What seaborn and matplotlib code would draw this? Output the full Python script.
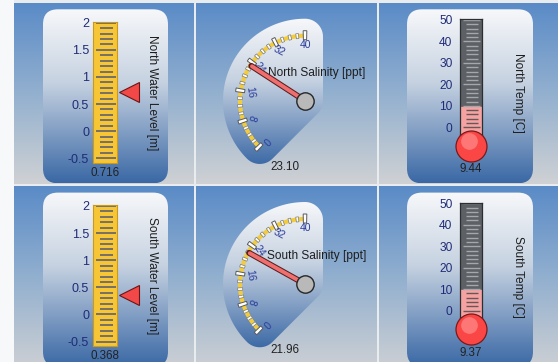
import numpy as np
import matplotlib
matplotlib.use("Agg")
import matplotlib.pyplot as plt
import matplotlib.transforms as mtransforms
from matplotlib.colors import LinearSegmentedColormap
from matplotlib.patches import FancyBboxPatch, Rectangle, PathPatch
from matplotlib.path import Path
import seaborn as sns

sns.set_theme(style="white")
plt.rcParams["font.family"] = ["Liberation Sans", "DejaVu Sans"]

# readings per station
stations = ["North", "South"]
water_level = [0.716, 0.368]
salinity = [23.10, 21.96]
temperature = [9.44, 9.37]

level_ticks = [-0.5, 0, 0.5, 1, 1.5, 2]
level_labels = ["-0.5", "0", "0.5", "1", "1.5", "2"]
salinity_ticks = [0, 8, 16, 24, 32, 40]
temp_ticks = [0, 10, 20, 30, 40, 50]

W, H = 558, 362
ROW_STEP = 183.3
SPAN = 135.0  # degrees swept by the dial from 0 to 40

fig = plt.figure(figsize=(W / 100, H / 100), dpi=100)
fig.patch.set_facecolor("#e9ecef")
bg = fig.add_axes([0, 0, 1, 1])
bg.axis("off")

cell_cmap = LinearSegmentedColormap.from_list("cell", ["#5a8bc7", "#93b0cf", "#cfd1d4"])
panel_cmap = LinearSegmentedColormap.from_list(
    "panel", [(0, "#f7f8fa"), (0.42, "#c6d2e1"), (1, "#3a68a5")])
grad = np.linspace(0, 1, 256).reshape(-1, 1)


def fill_gradient(patch, x0, x1, y0, y1, cmap, z):
    patch.set_facecolor("none")
    patch.set_edgecolor("none")
    bg.add_patch(patch)
    im = bg.imshow(grad, cmap=cmap, extent=(x0, x1, y1, y0), aspect="auto",
                   zorder=z, interpolation="bicubic")
    im.set_clip_path(patch)


def px_axes(x0, x1, y0, y1, **kw):
    return fig.add_axes([x0 / W, 1 - y1 / H, (x1 - x0) / W, (y1 - y0) / H], **kw)


def value_limits(y0, y1, v_hi, y_hi, v_lo, y_lo):
    ppu = (y_lo - y_hi) / (v_hi - v_lo)
    return v_lo - (y1 - y_lo) / ppu, v_hi + (y_hi - y0) / ppu


def fan_path(cx, cy, R0, r):
    def pt(x0, y0, rad, deg):
        a = np.radians(deg)
        return x0 + rad * np.cos(a), y0 - rad * np.sin(a)
    p1 = pt(cx, cy, R0, 90)
    p2 = pt(cx, cy, R0, 225)
    verts = [pt(cx, cy, R0 + r, a) for a in np.linspace(90, 225, 60)]
    verts += [pt(*p2, r, a) for a in np.linspace(225, 315, 20)]
    verts += [pt(cx, cy, r, a) for a in np.linspace(315, 360, 12)]
    verts += [pt(*p1, r, a) for a in np.linspace(0, 90, 20)]
    return Path(verts + [verts[0]], closed=True)


col_x = [(14, 194), (196, 377), (379, 558)]
row_y = [(3, 184), (186.3, 372)]

# white margin on the left
bg.add_patch(Rectangle((0, 0), 14, H, facecolor="#f7f8f9", edgecolor="none", zorder=0.5))

for (y0, y1) in row_y:
    for (x0, x1) in col_x:
        fill_gradient(Rectangle((x0, y0), x1 - x0, y1 - y0), x0, x1, y0, y1, cell_cmap, 1)

for i, name in enumerate(stations):
    dy = i * ROW_STEP

    # panels behind the ruler and the thermometer
    for (px0, px1) in [(43, 168), (407, 533)]:
        box = FancyBboxPatch((px0, 9.3 + dy), px1 - px0, 174, boxstyle="round,pad=0,rounding_size=15")
        fill_gradient(box, px0, px1, 9.3 + dy, 183.3 + dy, panel_cmap, 2)

    # fan behind the dial
    cx, cy = 305, 100.7 + dy
    fan = PathPatch(fan_path(cx, cy, 64, 18))
    fill_gradient(fan, 215, 330, 18 + dy, 166 + dy, panel_cmap, 2)

    # ---------------- water level ruler ----------------
    ax = px_axes(93, 117, 21.7 + dy, 163 + dy)
    ax.set_ylim(*value_limits(21.7, 163, 2, 22.7, -0.5, 158.3))
    ax.set_xlim(0, 1)
    ax.set_facecolor("#f7c636")
    for s in ax.spines.values():
        s.set_color("#c99a1e")
        s.set_linewidth(0.8)
    minor = np.round(np.arange(-0.5, 2.001, 0.1), 2)
    small = [v for v in minor if abs(v * 2 - round(v * 2)) > 1e-6]
    ax.hlines(small, 0.29, 0.83, color="#767064", lw=1.4)
    ax.hlines(level_ticks, 0.12, 0.96, color="#767064", lw=1.4)
    ax.set_xticks([])
    ax.set_yticks(level_ticks)
    ax.set_yticklabels(level_labels)
    ax.tick_params(axis="y", length=0, pad=2.7, labelsize=9, labelcolor="#1f2c78")
    tr = mtransforms.blended_transform_factory(ax.transAxes, ax.transData)
    ax.plot([1.5], [water_level[i]], marker="<", ms=14, mfc="#f24848", mec="#6b1515",
            mew=0.8, transform=tr, clip_on=False)
    ax.text(2.46, 0.5, f"{name} Water Level [m]", transform=ax.transAxes, rotation=270,
            ha="center", va="center", fontsize=8.6, color="#1e1e1e")
    ax.text(0.5, -0.072, f"{water_level[i]:.3f}", transform=ax.transAxes,
            ha="center", va="center", fontsize=8.4, color="#222222")

    # ---------------- thermometer ----------------
    tx = px_axes(460, 482.3, 19.3 + dy, 135 + dy)
    lo, hi = value_limits(19.3, 135, 50, 20, 0, 127.3)
    tx.set_ylim(lo, hi)
    tx.set_xlim(0, 1)
    tx.set_facecolor("#5d6166")
    for s in tx.spines.values():
        s.set_color("#2c2e30")
        s.set_linewidth(0.9)
    tx.axhspan(lo, temperature[i], color="#f4a2a2", zorder=1)
    tks = np.arange(0, 51, 2)
    for above, col in [(False, "#6a5656"), (True, "#a4a8ac")]:
        sel = tks[(tks > temperature[i]) == above]
        longs = sel[sel % 10 == 0]
        shorts = sel[sel % 10 != 0]
        tx.hlines(shorts, 0.25, 0.8, color=col, lw=1.0, zorder=2)
        tx.hlines(longs, 0.15, 0.9, color=col, lw=1.0, zorder=2)
    tx.set_xticks([])
    tx.set_yticks(temp_ticks)
    tx.tick_params(axis="y", length=0, pad=5.5, labelsize=8.6, labelcolor="#1f2c78")
    bulb_y = -(146 - 127.3) / ((127.3 - 20) / 50)
    tx.plot([0.5], [bulb_y], "o", ms=22.3, mfc="#fb4646", mec="#7a1a1a", mew=0.9,
            clip_on=False, zorder=3)
    tx.plot([0.42], [bulb_y + 2.2], "o", ms=12, mfc="#ff8d8d", mec="none", alpha=0.7,
            clip_on=False, zorder=3.1)
    tx.text(2.6, 0.5 - (93.3 - 77.15) / 115.7, f"{name} Temp [C]", transform=tx.transAxes,
            rotation=270, ha="center", va="center", fontsize=8.6, color="#1e1e1e")
    tx.text(0.5, 1 - (169.3 - 19.3) / 115.7, f"{temperature[i]:.2f}", transform=tx.transAxes,
            ha="center", va="center", fontsize=8.4, color="#222222")

    # ---------------- salinity dial ----------------
    pa = px_axes(cx - 90, cx + 90, cy - 90, cy + 90, polar=True)
    pa.set_theta_offset(np.radians(225))
    pa.set_theta_direction(-1)
    pa.set_ylim(0, 90)
    pa.axis("off")

    def ang(v):
        return np.radians(np.asarray(v, dtype=float) * SPAN / 40)

    arc = np.linspace(0, 40, 200)
    pa.plot(ang(arc), np.full_like(arc, 65), color="#f2cc3c", lw=3, solid_capstyle="butt")
    minors = [v for v in range(0, 41, 2) if v % 8]
    pa.bar(ang(minors), 5, width=2.6 / 65, bottom=62.5, color="#fbfbf3",
           edgecolor="#7a7a7a", lw=0.5, zorder=2.5)
    pa.bar(ang(salinity_ticks), 9, width=3.4 / 65, bottom=61, color="#ffffff",
           edgecolor="#5a5a5a", lw=0.7, zorder=2.6)
    for v in salinity_ticks:
        th_math = 225 - v * SPAN / 40
        pa.text(ang(v), 56, str(v), rotation=90 - th_math, rotation_mode="anchor",
                ha="center", va="center", fontsize=7.5, color="#2a3c9c", zorder=3)
    t = ang(salinity[i])
    pa.plot([t, t], [0, 64], color="#5a1e1e", lw=4.3, solid_capstyle="round", zorder=4)
    pa.plot([t, t], [0, 63.2], color="#ef6f6f", lw=2.8, solid_capstyle="round", zorder=4.1)
    pa.plot([0], [0], "o", ms=12.5, mfc="#b9b9b9", mec="#262626", mew=1.0, zorder=5)

    bg.text(316.8, 72.7 + dy, f"{name} Salinity [ppt]", ha="center", va="center",
            fontsize=8.6, color="#1e1e1e", zorder=6)
    bg.text(285, 166.7 + dy, f"{salinity[i]:.2f}", ha="center", va="center",
            fontsize=8.4, color="#222222", zorder=6)

bg.set_xlim(0, W)
bg.set_ylim(H, 0)

fig.savefig("out.png", dpi=100)
